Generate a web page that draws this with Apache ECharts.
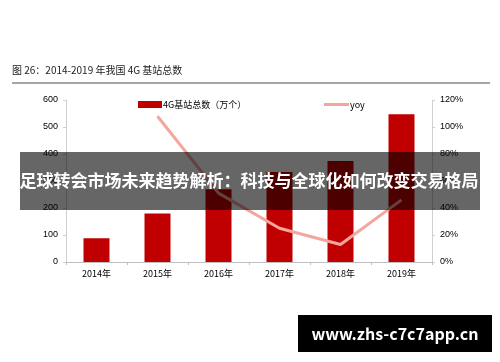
<!DOCTYPE html>
<html><head><meta charset="utf-8">
<script src="https://cdn.jsdelivr.net/npm/echarts@6/dist/echarts.min.js"></script>
<style>html,body{margin:0;padding:0;background:#fff}#c{width:500px;height:362px}</style>
</head><body><div id="c"></div>
<script>
var categories = ['2014年','2015年','2016年','2017年','2018年','2019年'];
var stations = [88, 180, 269, 333, 374, 547];
var yoy = [null, 108, 51, 25, 13, 46];
var leftTicks = {min:0, max:600, interval:100};
var rightTicks = {min:0, max:120, interval:20};
var titleText = '图 26：2014-2019 年我国 4G 基站总数';
var overlayText = '足球转会市场未来趋势解析：科技与全球化如何改变交易格局';
var urlText = 'www.zhs-c7c7app.cn';

var chart = echarts.init(document.getElementById('c'));
var axisLbl = {color:'#000', fontSize:9, fontFamily:'Liberation Sans, Arial, Noto Sans CJK SC'};
var legTxt = {fontSize:9, color:'#000', fontFamily:'Noto Sans CJK SC', padding:[0,0,0,-4]};
chart.setOption({
  animation:false,
  backgroundColor:'#fff',
  grid:{left:66, right:68, top:100, bottom:100},
  legend:[
    {top:95, left:133, itemWidth:24, itemHeight:7, textStyle:legTxt,
     data:[{name:'4G基站总数（万个）', icon:'rect'}]},
    {top:95, left:319, itemWidth:25, itemHeight:3, textStyle:legTxt,
     data:[{name:'yoy', icon:'rect'}]}
  ],
  xAxis:{
    type:'category', data:categories,
    axisLine:{lineStyle:{color:'#bfbfbf', width:1}},
    axisTick:{show:true, lineStyle:{color:'#bfbfbf'}, length:3},
    axisLabel:{color:'#000', fontSize:9, margin:7, fontFamily:'Noto Sans CJK SC'}
  },
  yAxis:[
    {type:'value', min:leftTicks.min, max:leftTicks.max, interval:leftTicks.interval,
     splitLine:{show:false},
     axisLine:{show:true, lineStyle:{color:'#d0d0d0'}},
     axisTick:{show:true, length:3, lineStyle:{color:'#d0d0d0'}},
     axisLabel:Object.assign({margin:8}, axisLbl)},
    {type:'value', min:rightTicks.min, max:rightTicks.max, interval:rightTicks.interval,
     splitLine:{show:false},
     axisLine:{show:true, lineStyle:{color:'#d0d0d0'}},
     axisTick:{show:true, length:3, lineStyle:{color:'#d0d0d0'}},
     axisLabel:Object.assign({margin:8, formatter:'{value}%'}, axisLbl)}
  ],
  series:[
    {name:'4G基站总数（万个）', type:'bar', data:stations, barWidth:26,
     itemStyle:{color:'#C00000'}},
    {name:'yoy', type:'line', yAxisIndex:1, data:yoy, symbol:'none',
     lineStyle:{color:'#F4A59C', width:3}, itemStyle:{color:'#F4A59C'}}
  ],
  graphic:[
    {type:'text', left:12, top:65, style:{text:titleText, fontSize:10, fill:'#222', fontFamily:'Noto Sans CJK SC'}},
    {type:'rect', shape:{x:12, y:82, width:478, height:2}, style:{fill:'#a6a6a6'}},
    {type:'rect', shape:{x:20, y:152, width:460, height:58}, style:{fill:'rgba(0,0,0,0.6)'}, z:100},
    {type:'text', z:101, style:{text:overlayText, x:249, y:181, align:'center', verticalAlign:'middle',
      fontSize:17, fontWeight:'bold', fill:'#fff', fontFamily:'Noto Sans CJK SC'}},
    {type:'rect', shape:{x:298, y:315, width:194, height:37}, style:{fill:'#000'}, z:100},
    {type:'text', z:101, style:{text:urlText, x:395, y:334, align:'center', verticalAlign:'middle',
      fontSize:16, fontWeight:'bold', fill:'#fff', fontFamily:'Noto Sans CJK SC'}}
  ]
});
</script></body></html>
